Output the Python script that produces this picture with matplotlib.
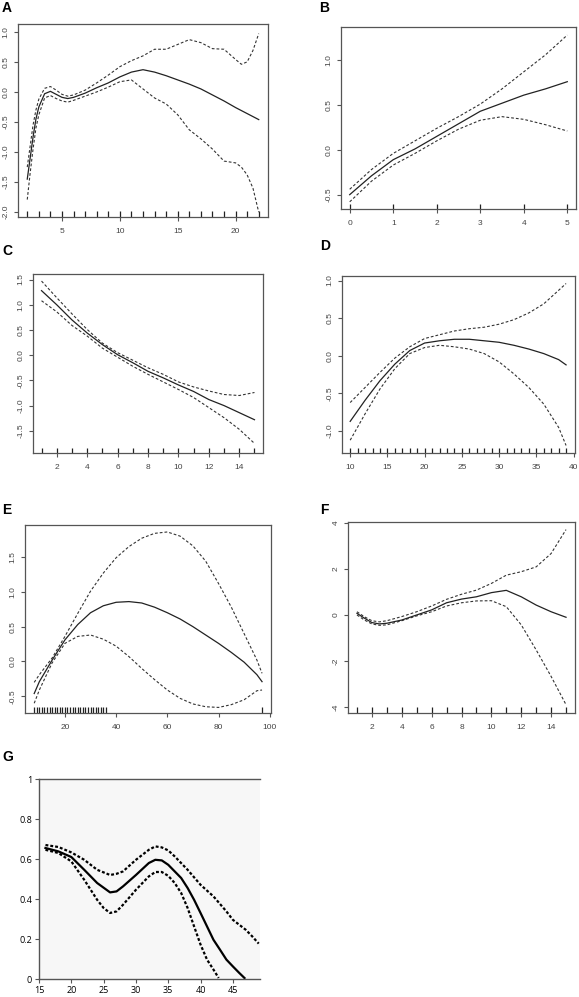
import matplotlib
matplotlib.use("Agg")
import matplotlib.pyplot as plt
from matplotlib.ticker import FormatStrFormatter

plt.rcParams['axes.unicode_minus'] = False
plt.rcParams['font.family'] = ['Liberation Sans', 'DejaVu Sans']

# ---- panel A ----
a_x = [2, 2.25, 2.5, 2.75, 3, 3.5, 4, 4.5, 5, 5.5, 6, 7, 8, 9, 10, 11, 12, 13, 14,
       15, 16, 17, 18, 19, 20, 20.5, 21, 21.5, 22]
a_fit = [-1.45, -1.1, -0.75, -0.45, -0.25, -0.03, 0.01, -0.04, -0.09, -0.11, -0.09,
         -0.02, 0.07, 0.15, 0.25, 0.33, 0.37, 0.33, 0.27, 0.2, 0.13, 0.05, -0.05,
         -0.15, -0.26, -0.31, -0.36, -0.41, -0.46]
a_upper = [-1.25, -0.9, -0.55, -0.3, -0.12, 0.06, 0.09, 0.03, -0.04, -0.07, -0.05,
           0.03, 0.15, 0.28, 0.42, 0.52, 0.6, 0.71, 0.71, 0.79, 0.87, 0.82, 0.72,
           0.71, 0.54, 0.46, 0.5, 0.69, 0.97]
a_lower = [-1.79, -1.35, -0.95, -0.6, -0.38, -0.1, -0.06, -0.11, -0.15, -0.17, -0.14,
           -0.07, 0.0, 0.08, 0.17, 0.2, 0.05, -0.1, -0.2, -0.38, -0.63, -0.78, -0.95,
           -1.15, -1.18, -1.25, -1.38, -1.6, -2.0]
a_rug = list(range(2, 23))

# ---- panel B ----
b_x = [0, 0.5, 1, 1.5, 2, 2.5, 3, 3.5, 4, 4.5, 5]
b_fit = [-0.5, -0.29, -0.11, 0.01, 0.15, 0.29, 0.43, 0.52, 0.61, 0.68, 0.76]
b_upper = [-0.44, -0.22, -0.04, 0.1, 0.24, 0.37, 0.51, 0.68, 0.87, 1.06, 1.28]
b_lower = [-0.58, -0.35, -0.17, -0.04, 0.1, 0.23, 0.33, 0.37, 0.34, 0.28, 0.21]
b_rug = [0, 1, 2, 3, 4, 5]

# ---- panel C ----
c_x = list(range(1, 16))
c_fit = [1.28, 1.0, 0.7, 0.44, 0.21, 0.01, -0.15, -0.32, -0.45, -0.59, -0.72,
         -0.88, -1.0, -1.14, -1.28]
c_upper = [1.47, 1.14, 0.82, 0.51, 0.24, 0.05, -0.1, -0.25, -0.38, -0.53, -0.63,
           -0.71, -0.78, -0.8, -0.74]
c_lower = [1.08, 0.86, 0.59, 0.38, 0.14, -0.04, -0.22, -0.38, -0.53, -0.68, -0.84,
           -1.04, -1.24, -1.47, -1.75]
c_rug = list(range(1, 16))

# ---- panel D ----
d_x = [10, 12, 14, 16, 18, 20, 22, 24, 26, 28, 30, 32, 34, 36, 38, 39]
d_fit = [-0.87, -0.59, -0.33, -0.11, 0.07, 0.17, 0.2, 0.22, 0.22, 0.2, 0.18, 0.14,
         0.09, 0.03, -0.05, -0.12]
d_upper = [-0.62, -0.42, -0.22, -0.03, 0.12, 0.23, 0.28, 0.33, 0.36, 0.38, 0.42,
           0.48, 0.57, 0.69, 0.87, 0.96]
d_lower = [-1.12, -0.77, -0.44, -0.17, 0.03, 0.11, 0.14, 0.12, 0.09, 0.03, -0.08,
           -0.24, -0.42, -0.64, -0.95, -1.19]
d_rug = list(range(10, 40))

# ---- panel E ----
e_x = [8, 10, 15, 20, 25, 30, 35, 40, 45, 50, 55, 60, 65, 70, 75, 80, 85, 90, 95, 97]
e_fit = [-0.46, -0.29, 0.02, 0.31, 0.53, 0.7, 0.8, 0.85, 0.86, 0.84, 0.78, 0.7,
         0.61, 0.5, 0.38, 0.26, 0.13, -0.01, -0.19, -0.29]
e_upper = [-0.3, -0.19, 0.05, 0.36, 0.69, 1.01, 1.27, 1.49, 1.65, 1.77, 1.84, 1.86,
           1.8, 1.66, 1.44, 1.12, 0.78, 0.4, 0.02, -0.17]
e_lower = [-0.6, -0.41, -0.02, 0.26, 0.36, 0.38, 0.32, 0.22, 0.07, -0.1, -0.26,
           -0.41, -0.53, -0.61, -0.65, -0.66, -0.62, -0.55, -0.42, -0.41]
e_rug = list(range(8, 37)) + [97]

# ---- panel F ----
f_x = [1, 1.5, 2, 2.5, 3, 4, 5, 6, 7, 8, 9, 10, 11, 12, 13, 14, 15]
f_fit = [0.07, -0.14, -0.33, -0.39, -0.36, -0.22, 0.0, 0.22, 0.53, 0.69, 0.79, 0.97,
         1.07, 0.79, 0.43, 0.14, -0.1]
f_upper = [0.14, -0.08, -0.25, -0.3, -0.25, -0.07, 0.14, 0.39, 0.68, 0.9, 1.08, 1.37,
           1.73, 1.88, 2.09, 2.67, 3.71]
f_lower = [0.0, -0.22, -0.39, -0.45, -0.43, -0.25, -0.04, 0.14, 0.39, 0.53, 0.61,
           0.62, 0.36, -0.43, -1.52, -2.67, -3.9]
f_rug = list(range(1, 16))

# ---- panel G ----
g_fit_x = [16, 18, 20, 22, 24, 26, 27, 28, 30, 32, 33, 34, 35, 36, 37, 38, 39, 40,
           41, 42, 43, 44, 45, 46, 46.8]
g_fit = [0.655, 0.638, 0.61, 0.546, 0.48, 0.433, 0.438, 0.463, 0.52, 0.58, 0.596,
         0.593, 0.571, 0.538, 0.505, 0.455, 0.396, 0.33, 0.263, 0.196, 0.147, 0.097,
         0.063, 0.03, 0.005]
g_upper_x = [16, 18, 20, 22, 24, 26, 27, 28, 30, 32, 33, 34, 35, 36, 38, 40, 42, 44,
             45, 46, 47, 48, 49]
g_upper = [0.67, 0.66, 0.633, 0.596, 0.546, 0.52, 0.526, 0.538, 0.596, 0.646, 0.663,
           0.658, 0.643, 0.613, 0.546, 0.471, 0.413, 0.338, 0.296, 0.271, 0.246,
           0.213, 0.177]
g_lower_x = [16, 18, 20, 22, 24, 25, 26, 27, 28, 30, 32, 33, 34, 35, 36, 37, 38, 39,
             40, 41, 42, 42.8]
g_lower = [0.646, 0.63, 0.588, 0.496, 0.396, 0.355, 0.33, 0.338, 0.371, 0.446, 0.513,
           0.535, 0.535, 0.516, 0.48, 0.43, 0.355, 0.263, 0.172, 0.097, 0.047, 0.005]

W, H = 579, 997
fig = plt.figure(figsize=(W / 100, H / 100), dpi=100)


def px_axes(left, top, right, bottom):
    return fig.add_axes([left / W, 1 - bottom / H, (right - left) / W, (bottom - top) / H])


def r_panel(box, x, fit, upper, lower, rug, xlim, ylim, xticks, yticks, yfmt):
    ax = px_axes(*box)
    ax.plot(x, upper, color='#333333', lw=0.8, ls=(0, (2.5, 1.8)))
    ax.plot(x, lower, color='#333333', lw=0.8, ls=(0, (2.5, 1.8)))
    ax.plot(x, fit, color='#222222', lw=0.9)
    ax.vlines(rug, 0, 0.03, color='#222222', lw=0.9, transform=ax.get_xaxis_transform())
    ax.set_xlim(*xlim)
    ax.set_ylim(*ylim)
    ax.set_xticks(xticks)
    ax.set_yticks(yticks)
    ax.yaxis.set_major_formatter(FormatStrFormatter(yfmt))
    for s in ax.spines.values():
        s.set_color('#555555')
        s.set_linewidth(0.9)
    ax.tick_params(length=3, width=0.8, color='#555555', labelsize=6,
                   labelcolor='#444444', pad=3)
    ax.tick_params(axis='x', pad=5)
    for lab in ax.get_yticklabels():
        lab.set_rotation(90)
        lab.set_va('center')
    return ax


r_panel((18, 24, 268, 217), a_x, a_fit, a_upper, a_lower, a_rug,
        (1.2, 22.8), (-2.08, 1.13), [5, 10, 15, 20], [-2, -1.5, -1, -0.5, 0, 0.5, 1], '%.1f')
r_panel((341, 27, 576, 209), b_x, b_fit, b_upper, b_lower, b_rug,
        (-0.2, 5.2), (-0.66, 1.37), [0, 1, 2, 3, 4, 5], [-0.5, 0, 0.5, 1], '%.1f')
r_panel((33, 274, 263, 453), c_x, c_fit, c_upper, c_lower, c_rug,
        (0.44, 15.56), (-1.94, 1.61), [2, 4, 6, 8, 10, 12, 14],
        [-1.5, -1, -0.5, 0, 0.5, 1, 1.5], '%.1f')
r_panel((342, 276, 575, 453), d_x, d_fit, d_upper, d_lower, d_rug,
        (8.9, 40.2), (-1.29, 1.06), [10, 15, 20, 25, 30, 35, 40], [-1, -0.5, 0, 0.5, 1], '%.1f')
r_panel((25, 525, 271, 713), e_x, e_fit, e_upper, e_lower, e_rug,
        (4.4, 100.5), (-0.74, 1.96), [20, 40, 60, 80, 100], [-0.5, 0, 0.5, 1, 1.5], '%.1f')
r_panel((348, 522, 575, 713), f_x, f_fit, f_upper, f_lower, f_rug,
        (0.4, 15.6), (-4.26, 4.04), [2, 4, 6, 8, 10, 12, 14], [-4, -2, 0, 2, 4], '%d')

# panel G, spreadsheet style
ax = px_axes(39, 779, 260, 979)
ax.set_facecolor('#f7f7f7')
ax.plot(g_upper_x, g_upper, color='black', lw=1.6, ls=(0, (1.3, 0.9)))
ax.plot(g_lower_x, g_lower, color='black', lw=1.6, ls=(0, (1.3, 0.9)))
ax.plot(g_fit_x, g_fit, color='black', lw=1.6)
ax.set_xlim(15, 49.2)
ax.set_ylim(0, 1)
ax.set_xticks([15, 20, 25, 30, 35, 40, 45])
ax.set_yticks([0, 0.2, 0.4, 0.6, 0.8, 1])
ax.set_yticklabels(['0', '0.2', '0.4', '0.6', '0.8', '1'])
ax.spines['right'].set_visible(False)
for s in ['left', 'bottom', 'top']:
    ax.spines[s].set_color('#555555')
    ax.spines[s].set_linewidth(1.0)
ax.tick_params(length=3, width=0.8, color='#555555', labelsize=6.5, pad=2)
for lab in ax.get_xticklabels() + ax.get_yticklabels():
    lab.set_family(['Open Sans', 'DejaVu Sans'])

# panel letters
for letter, (px, py) in {'A': (2, 8), 'B': (319, 8), 'C': (2, 251), 'D': (320, 246),
                         'E': (2, 510), 'F': (320, 510), 'G': (2, 757)}.items():
    fig.text(px / W, 1 - py / H, letter, fontsize=10, fontweight='bold',
             ha='left', va='center')

fig.savefig('out.png', dpi=100)
